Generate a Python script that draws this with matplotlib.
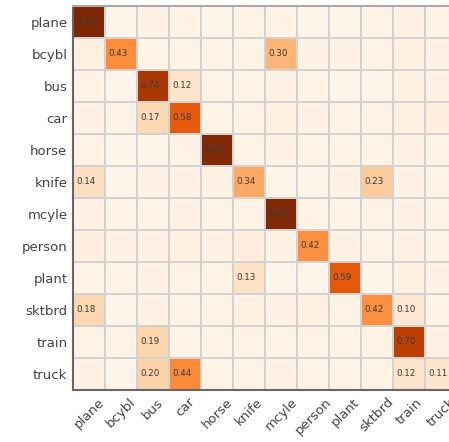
import numpy as np
import matplotlib
matplotlib.use("Agg")
import matplotlib.pyplot as plt

classes = ["plane", "bcybl", "bus", "car", "horse", "knife", "mcyle",
           "person", "plant", "sktbrd", "train", "truck"]

row_plane  = [0.86, 0.01, 0.03, 0.02, 0.01, 0.02, 0.02, 0.01, 0.01, 0.02, 0.03, 0.02]
row_bcybl  = [0.04, 0.43, 0.02, 0.02, 0.02, 0.02, 0.30, 0.03, 0.03, 0.02, 0.04, 0.03]
row_bus    = [0.02, 0.01, 0.74, 0.12, 0.02, 0.02, 0.03, 0.02, 0.01, 0.01, 0.04, 0.03]
row_car    = [0.03, 0.02, 0.17, 0.58, 0.02, 0.02, 0.04, 0.03, 0.02, 0.02, 0.04, 0.05]
row_horse  = [0.02, 0.01, 0.01, 0.02, 0.85, 0.02, 0.03, 0.02, 0.02, 0.02, 0.03, 0.02]
row_knife  = [0.14, 0.01, 0.03, 0.03, 0.03, 0.34, 0.01, 0.01, 0.03, 0.23, 0.03, 0.02]
row_mcyle  = [0.03, 0.02, 0.02, 0.03, 0.02, 0.02, 0.85, 0.02, 0.02, 0.02, 0.03, 0.02]
row_person = [0.05, 0.03, 0.03, 0.04, 0.03, 0.05, 0.03, 0.42, 0.03, 0.02, 0.03, 0.02]
row_plant  = [0.02, 0.02, 0.03, 0.02, 0.02, 0.13, 0.01, 0.01, 0.59, 0.01, 0.04, 0.03]
row_sktbrd = [0.18, 0.01, 0.03, 0.02, 0.02, 0.04, 0.03, 0.04, 0.02, 0.42, 0.10, 0.02]
row_train  = [0.02, 0.02, 0.19, 0.02, 0.02, 0.02, 0.02, 0.02, 0.02, 0.02, 0.70, 0.03]
row_truck  = [0.03, 0.01, 0.20, 0.44, 0.02, 0.02, 0.03, 0.02, 0.02, 0.02, 0.12, 0.11]

cm = np.array([row_plane, row_bcybl, row_bus, row_car, row_horse, row_knife,
               row_mcyle, row_person, row_plant, row_sktbrd, row_train, row_truck])

W, H = 449, 442
fig = plt.figure(figsize=(W / 100, H / 100), dpi=100)
ax = fig.add_axes([73 / W, (H - 390) / H, 384 / W, 384 / H])

n = len(classes)
ax.pcolormesh(np.arange(n + 1) - 0.5, np.arange(n + 1) - 0.5, cm,
              cmap="Oranges", vmin=0, vmax=cm.max(),
              edgecolor="#d2d2d2", linewidth=1.4)
ax.set_xlim(-0.5, n - 0.5)
ax.set_ylim(n - 0.5, -0.5)

for i in range(n):
    for j in range(n):
        v = cm[i, j]
        if v >= 0.095:
            ax.text(j - 0.40, i, f"{v:.2f}", ha="left", va="center",
                    fontsize=6.3, color="#3a3a3a")

ax.set_xticks(range(n))
ax.set_yticks(range(n))
ax.set_xticklabels(classes, rotation=45, ha="center",
                   fontsize=9.5, color="#444444")
ax.set_yticklabels(classes, fontsize=9.5, color="#444444")
ax.tick_params(length=0, pad=4)
for side in ["left", "bottom"]:
    ax.spines[side].set_color("#666666")
    ax.spines[side].set_linewidth(1.5)
ax.spines["top"].set_color("#aaaaaa")
ax.spines["top"].set_linewidth(1.5)
ax.spines["right"].set_visible(False)

fig.savefig("out.png", dpi=100)
